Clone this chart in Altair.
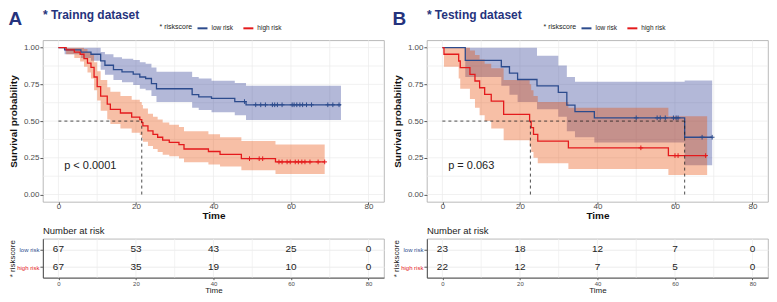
import altair as alt
import pandas as pd

FONT = "Liberation Sans"
GROUPS = ["low risk", "high risk"]
LINE_COLORS = ["#2c4b8d", "#e41a1c"]
FILL_COLORS = ["#263490", "#e84800"]
NAVY = "#25337d"

X_DOM = [-4, 84]
Y_DOM = [-0.05, 1.05]
X_TICKS = [0, 20, 40, 60, 80]
X_GRID = [0, 10, 20, 30, 40, 50, 60, 70, 80]
Y_TICKS = [0, 0.25, 0.5, 0.75, 1.0]
Y_GRID = [0, 0.125, 0.25, 0.375, 0.5, 0.625, 0.75, 0.875, 1.0]
RISK_TIMES = [0, 20, 40, 60, 80]

KM_W, KM_H, RT_H = 342, 162, 39

# ---------------- Panel A : training dataset ----------------
a_low_time = [0, 1.6, 5.8, 8.4, 10.9, 12.0, 14.2, 16.4, 19.3, 21.0, 22.5, 24.0, 25.3, 34.5, 36.2, 39.5, 45.5, 48.4]
a_low_surv = [1, 0.985, 0.97, 0.955, 0.91, 0.88, 0.85, 0.835, 0.82, 0.80, 0.79, 0.755, 0.72, 0.68, 0.665, 0.655, 0.633, 0.611]
a_low_upper = [1, 1, 1, 1, 0.97, 0.955, 0.935, 0.925, 0.915, 0.90, 0.89, 0.865, 0.835, 0.80, 0.79, 0.775, 0.76, 0.74]
a_low_lower = [1, 0.955, 0.93, 0.91, 0.85, 0.815, 0.78, 0.765, 0.745, 0.72, 0.71, 0.67, 0.63, 0.59, 0.575, 0.56, 0.54, 0.507]
a_low_end = 72.9
a_low_cens_time = [48.0, 50.9, 52.2, 53.4, 55.2, 55.8, 56.5, 57.7, 60.3, 60.8, 61.5, 62.3, 63.0, 64.0, 65.3, 69.5, 70.8, 72.4]
a_low_cens_surv = [0.633] + [0.611] * 17

a_high_time = [0, 2.0, 4.1, 5.6, 6.6, 7.5, 8.4, 9.2, 10.0, 10.9, 12.6, 13.4, 16.0, 18.9, 21.0, 21.5, 21.8, 23.1, 24.4, 25.6, 26.9, 28.6, 31.1, 32.4, 38.7, 41.7, 47.2, 56.0]
a_high_surv = [1, 0.985, 0.97, 0.955, 0.925, 0.895, 0.865, 0.80, 0.735, 0.67, 0.615, 0.58, 0.555, 0.527, 0.51, 0.49, 0.467, 0.433, 0.41, 0.39, 0.37, 0.355, 0.34, 0.31, 0.293, 0.273, 0.244, 0.222]
a_high_upper = [1, 1, 1, 1, 0.99, 0.97, 0.95, 0.90, 0.84, 0.78, 0.73, 0.70, 0.67, 0.645, 0.63, 0.61, 0.585, 0.55, 0.53, 0.51, 0.49, 0.475, 0.46, 0.43, 0.41, 0.39, 0.365, 0.34]
a_high_lower = [1, 0.955, 0.93, 0.905, 0.87, 0.83, 0.79, 0.71, 0.64, 0.57, 0.51, 0.48, 0.45, 0.42, 0.405, 0.385, 0.36, 0.33, 0.31, 0.29, 0.27, 0.26, 0.245, 0.22, 0.205, 0.19, 0.165, 0.14]
a_high_end = 68.7
a_high_cens_time = [49.3, 51.8, 52.7, 56.9, 57.7, 59.0, 59.8, 61.1, 61.9, 62.8, 63.6, 64.9, 67.0, 68.7]
a_high_cens_surv = [0.244, 0.244, 0.244] + [0.222] * 11

a_medians = [21.5]
a_pvalue = "p < 0.0001"
a_risk_low = [67, 53, 43, 25, 0]
a_risk_high = [67, 35, 19, 10, 0]

# ---------------- Panel B : testing dataset ----------------
b_low_time = [0, 5.9, 15.2, 17.3, 19.4, 24.4, 29.9, 32.1, 34.2, 39.2, 62.5]
b_low_surv = [1, 0.913, 0.87, 0.826, 0.783, 0.739, 0.696, 0.609, 0.565, 0.522, 0.39]
b_low_upper = [1, 1, 1, 1, 1, 0.944, 0.878, 0.80, 0.767, 0.767, 0.777]
b_low_lower = [1, 0.80, 0.74, 0.68, 0.63, 0.58, 0.53, 0.43, 0.39, 0.355, 0.20]
b_low_end = 69.6
b_low_cens_time = [50.0, 55.4, 56.2, 57.5, 59.6, 60.3, 60.8, 67.0, 69.6]
b_low_cens_surv = [0.522] * 7 + [0.39, 0.39]

b_high_time = [0, 0.4, 4.2, 4.6, 7.1, 8.4, 9.6, 10.9, 12.6, 15.8, 22.5, 22.9, 23.5, 24.6, 32.5, 58.3]
b_high_surv = [1, 0.955, 0.909, 0.864, 0.818, 0.773, 0.727, 0.682, 0.636, 0.545, 0.50, 0.455, 0.409, 0.364, 0.318, 0.265]
b_high_upper = [1, 1, 1, 1, 0.98, 0.95, 0.92, 0.89, 0.86, 0.78, 0.75, 0.71, 0.67, 0.63, 0.59, 0.533]
b_high_lower = [1, 0.87, 0.79, 0.72, 0.65, 0.59, 0.54, 0.50, 0.45, 0.37, 0.33, 0.29, 0.25, 0.213, 0.173, 0.133]
b_high_end = 68.3
b_high_cens_time = [51.2, 60.0, 60.8, 67.9]
b_high_cens_surv = [0.318, 0.265, 0.265, 0.265]

b_medians = [22.7, 62.5]
b_pvalue = "p = 0.063"
b_risk_low = [23, 18, 12, 7, 0]
b_risk_high = [22, 12, 7, 5, 0]


def curve_df(time, surv, lower, upper, end, group):
    rows = [dict(time=t, surv=s, lower=lo, upper=hi, group=group)
            for t, s, lo, hi in zip(time, surv, lower, upper)]
    rows.append(dict(time=end, surv=surv[-1], lower=lower[-1], upper=upper[-1], group=group))
    return pd.DataFrame(rows)


def cens_df(time, surv, group):
    return pd.DataFrame({"time": time, "surv": surv, "group": group})


def xscale():
    return alt.Scale(domain=X_DOM, nice=False, zero=False)


def yscale():
    return alt.Scale(domain=Y_DOM, nice=False, zero=False)


def km_chart(curves, cens, medians, pvalue, title):
    xs, ys = xscale(), yscale()
    x_axis = alt.Axis(values=X_TICKS, format="d", grid=False, domain=False, tickSize=2.5,
                      tickColor="#555", labelFontSize=8, labelColor="#4d4d4d", labelPadding=-1.5,
                      title="Time", titleFontSize=10, titleFontWeight="bold", titleColor="#111",
                      titlePadding=0)
    y_axis = alt.Axis(values=Y_TICKS, format=".2f", grid=False, domain=False, tickSize=3,
                      tickColor="#555", labelFontSize=8, labelColor="#4d4d4d", labelPadding=1,
                      title="Survival probability", titleFontSize=10, titleFontWeight="bold",
                      titleColor="#111", titleX=-24, titleY=KM_H / 2)
    legend = alt.Legend(orient="none", legendX=117, legendY=-18,
                        direction="horizontal", title="* riskscore",
                        titleOrient="left", titleFontSize=7,
                        titleFontWeight="normal", titleColor="#222",
                        labelFontSize=6.5, labelColor="#222",
                        symbolType="stroke", symbolSize=100,
                        symbolStrokeWidth=2, columnPadding=6,
                        titlePadding=4, labelOffset=3, padding=0)
    cscale = alt.Scale(domain=GROUPS, range=LINE_COLORS)

    def X(f):
        return alt.X(f, scale=xs, axis=x_axis)

    def Y(f):
        return alt.Y(f, scale=ys, axis=y_axis)

    gx = alt.Chart(pd.DataFrame({"g": X_GRID})).mark_rule(color="#ebebeb", strokeWidth=0.7).encode(
        x=X("g:Q"))
    gy = alt.Chart(pd.DataFrame({"g": Y_GRID})).mark_rule(color="#ebebeb", strokeWidth=0.7).encode(
        y=Y("g:Q"))

    cdf = pd.concat(curves, ignore_index=True)
    band_layers = []
    for g, fc in zip(GROUPS, FILL_COLORS):
        band_layers.append(
            alt.Chart(cdf).transform_filter(alt.datum.group == g).mark_area(
                interpolate="step-after", opacity=0.35, color=fc).encode(
                x=X("time:Q"), y=Y("lower:Q"), y2="upper:Q"))
    lines = alt.Chart(cdf).mark_line(interpolate="step-after", strokeWidth=1.3).encode(
        x=X("time:Q"),
        y=Y("surv:Q"),
        color=alt.Color("group:N", scale=cscale, legend=legend),
    )
    ckdf = pd.concat(cens, ignore_index=True)
    marks = alt.Chart(ckdf).mark_point(shape="M-1,0L1,0M0,-1L0,1", size=22, strokeWidth=1,
                                       filled=False, opacity=1).encode(
        x=X("time:Q"),
        y=Y("surv:Q"),
        color=alt.Color("group:N", scale=cscale, legend=legend),
    )
    med_rows = [dict(x1=0, x2=max(medians), y1=0.5, y2=0.5)]
    med_rows += [dict(x1=m, x2=m, y1=0, y2=0.5) for m in medians]
    med = alt.Chart(pd.DataFrame(med_rows)).mark_rule(
        strokeDash=[3, 3], color="#222", strokeWidth=0.8).encode(
        x=X("x1:Q"), x2="x2:Q", y=Y("y1:Q"), y2="y2:Q")
    ptxt = alt.Chart(pd.DataFrame({"x": [1.5], "y": [0.195], "t": [pvalue]})).mark_text(
        align="left", fontSize=11, color="#222", font=FONT).encode(
        x=X("x:Q"), y=Y("y:Q"), text="t:N")

    return alt.layer(gx, gy, *band_layers, lines, marks, med, ptxt).properties(
        width=KM_W, height=KM_H,
        title=alt.TitleParams(title, anchor="start", frame="group", fontSize=12,
                              fontWeight="bold", color=NAVY, font=FONT, offset=0))


def risk_chart(low, high):
    xs = xscale()
    df = pd.DataFrame({"time": RISK_TIMES * 2,
                       "group": [GROUPS[0]] * 5 + [GROUPS[1]] * 5,
                       "n": low + high})
    x_axis = alt.Axis(values=X_TICKS, format="d", grid=False, domain=True, domainColor="#555",
                      tickSize=2, tickColor="#555", labelFontSize=6, labelColor="#4d4d4d",
                      labelPadding=1, title="Time", titleFontSize=8, titleFontWeight="normal",
                      titleColor="#222", titlePadding=0)
    y_axis = alt.Axis(grid=True, gridColor="#ececec", domain=True, domainColor="#555",
                      tickSize=3, tickColor="#555", labelFontSize=6, labelPadding=1,
                      labelColor={"expr": "datum.value == 'low risk' ? '%s' : '%s'" % (LINE_COLORS[0], LINE_COLORS[1])},
                      title="* riskscore", titleFontSize=8, titleFontWeight="normal",
                      titleColor="#222", titleX=-26, titleY=RT_H / 2)
    gx = alt.Chart(pd.DataFrame({"g": X_GRID})).mark_rule(color="#ececec", strokeWidth=0.7).encode(
        x=alt.X("g:Q", scale=xs, axis=x_axis))
    txt = alt.Chart(df).mark_text(fontSize=10, color="#222", font=FONT).encode(
        x=alt.X("time:Q", scale=xs, axis=x_axis),
        y=alt.Y("group:N", scale=alt.Scale(type="point", domain=GROUPS, padding=0.6), axis=y_axis),
        text="n:Q")
    return alt.layer(gx, txt).properties(
        width=KM_W, height=RT_H,
        title=alt.TitleParams("Number at risk", anchor="start", frame="group", fontSize=9.5,
                              fontWeight="normal", color="#222", font=FONT, offset=3))


def panel(letter, title, curves, cens, medians, pvalue, low, high):
    return alt.vconcat(
        km_chart(curves, cens, medians, pvalue, title),
        risk_chart(low, high),
        spacing=3,
    ).resolve_scale(color="independent").properties(
        title=alt.TitleParams(letter, anchor="start", frame="bounds", fontSize=19,
                              fontWeight="bold", color=NAVY, font=FONT, offset=-20))


panel_a = panel(
    "A", "* Trainng dataset",
    [curve_df(a_low_time, a_low_surv, a_low_lower, a_low_upper, a_low_end, "low risk"),
     curve_df(a_high_time, a_high_surv, a_high_lower, a_high_upper, a_high_end, "high risk")],
    [cens_df(a_low_cens_time, a_low_cens_surv, "low risk"),
     cens_df(a_high_cens_time, a_high_cens_surv, "high risk")],
    a_medians, a_pvalue, a_risk_low, a_risk_high)

panel_b = panel(
    "B", "* Testing dataset",
    [curve_df(b_low_time, b_low_surv, b_low_lower, b_low_upper, b_low_end, "low risk"),
     curve_df(b_high_time, b_high_surv, b_high_lower, b_high_upper, b_high_end, "high risk")],
    [cens_df(b_low_cens_time, b_low_cens_surv, "low risk"),
     cens_df(b_high_cens_time, b_high_cens_surv, "high risk")],
    b_medians, b_pvalue, b_risk_low, b_risk_high)

chart = alt.hconcat(panel_a, panel_b, spacing=7).resolve_scale(
    color="independent").properties(padding=0).configure(
    font=FONT).configure_view(stroke="#a8a8a8", strokeWidth=0.8)

chart.save("out.html", embed_options={"renderer": "svg", "actions": False})
